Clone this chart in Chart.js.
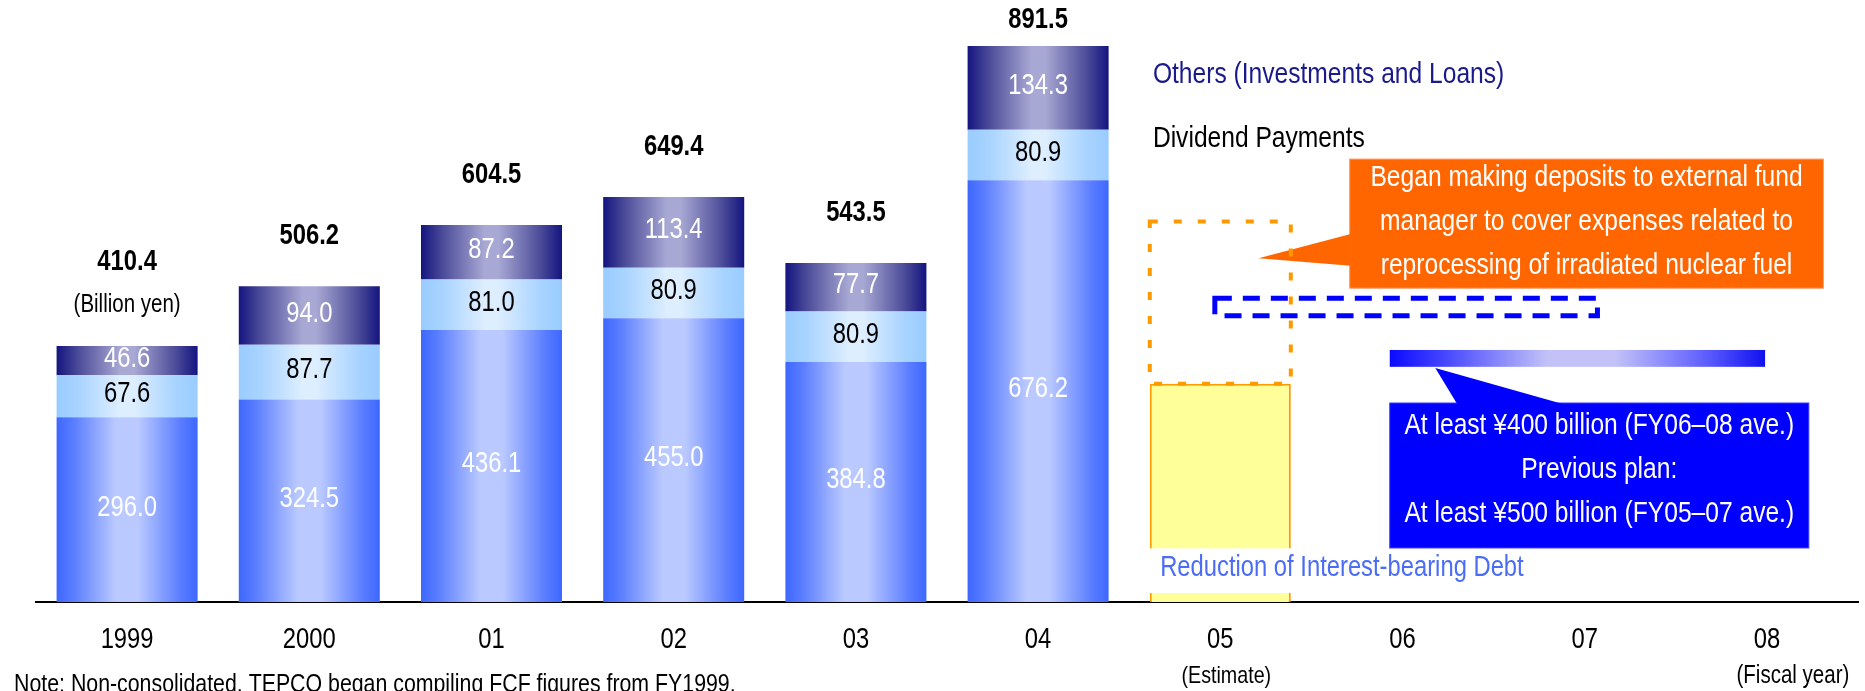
<!DOCTYPE html>
<html>
<head>
<meta charset="utf-8">
<script src="https://cdn.jsdelivr.net/npm/chart.js@4.4.1/dist/chart.umd.min.js"></script>
<style>
    html, body { margin: 0; padding: 0; background: #ffffff; }
    #wrap { width: 1865px; height: 691px; position: relative; }
</style>
</head>
<body>
<div id="wrap"><canvas id="fcfChart"></canvas></div>
<script>
// Fiscal years on the category axis
const years = ['1999', '2000', '01', '02', '03', '04', '05', '06', '07', '08'];

// Use of free cash flow, billion yen (FY1999-FY2004 actual)
const debtReduction = [296.0, 324.5, 436.1, 455.0, 384.8, 676.2, null, null, null, null];
const dividends = [67.6, 87.7, 81.0, 80.9, 80.9, 80.9, null, null, null, null];
const others = [46.6, 94.0, 87.2, 113.4, 77.7, 134.3, null, null, null, null];
const totals = [410.4, 506.2, 604.5, 649.4, 543.5, 891.5];

// FY2005 estimate: debt reduction and the dashed total above it
const estimate = [null, null, null, null, null, null, 350, null, null, null];
const estimateTotal = 610;

// Plan bands (billion yen) and the fiscal-year span they cover (category index)
const newPlanBand = [377, 404];
const newPlanSpan = [6.93, 8.99];
const prevPlanBand = [459, 487];
const prevPlanSpan = [5.97, 8.07];

const FONT = '"Liberation Sans", Arial, sans-serif';
const SQUEEZE = 0.82;   // narrow look of the original typeface
const BAR_PCT = 0.774;

const Charts = (() => {
    let fcfChart = null;

    function halfBar(chart) {
        const xs = chart.scales.x;
        return xs.width / years.length * BAR_PCT / 2;
    }

    // horizontal "cylinder" shading for each bar
    function barGradient(stops) {
        return (context) => {
            const chart = context.chart;
            const xs = chart.scales.x;
            if (!chart.chartArea || !xs || !xs.width || context.type !== 'data') return stops[0][1];
            const cx = xs.getPixelForValue(context.dataIndex);
            const h = halfBar(chart);
            const g = chart.ctx.createLinearGradient(cx - h, 0, cx + h, 0);
            stops.forEach(([o, c]) => g.addColorStop(o, c));
            return g;
        };
    }

    function text(ctx, str, x, y, opts) {
        ctx.save();
        ctx.font = (opts.bold ? 'bold ' : '') + opts.size + 'px ' + FONT;
        ctx.fillStyle = opts.color || '#000';
        ctx.textAlign = opts.align || 'center';
        ctx.textBaseline = opts.baseline || 'middle';
        ctx.translate(x, y);
        ctx.scale(SQUEEZE, 1);
        ctx.fillText(str, 0, 0);
        ctx.restore();
    }

    function dashedRect(ctx, x1, y1, x2, y2, color, width, dash) {
        ctx.save();
        ctx.strokeStyle = color;
        ctx.lineWidth = width;
        ctx.setLineDash(dash);
        ctx.strokeRect(x1, y1, x2 - x1, y2 - y1);
        ctx.restore();
    }

    function callout(ctx, box, tip, base, fill, edge) {
        ctx.save();
        ctx.fillStyle = fill;
        ctx.strokeStyle = edge;
        ctx.lineWidth = 1;
        ctx.fillRect(box.x1, box.y1, box.x2 - box.x1, box.y2 - box.y1);
        ctx.strokeRect(box.x1, box.y1, box.x2 - box.x1, box.y2 - box.y1);
        ctx.beginPath();
        ctx.moveTo(base[0][0], base[0][1]);
        ctx.lineTo(tip[0], tip[1]);
        ctx.lineTo(base[1][0], base[1][1]);
        ctx.closePath();
        ctx.fill();
        ctx.restore();
    }

    const annotate = {
        id: 'annotate',
        afterDatasetsDraw(chart) {
            const { ctx, scales: { x, y } } = chart;
            const px = (i) => x.getPixelForValue(i);
            const py = (v) => y.getPixelForValue(v);
            const hb = halfBar(chart);

            // values inside the stacked segments
            const segColors = ['#ffffff', '#000000', '#ffffff'];
            [0, 1, 2].forEach((d) => {
                chart.getDatasetMeta(d).data.forEach((el, i) => {
                    const v = chart.data.datasets[d].data[i];
                    if (v == null) return;
                    text(ctx, v.toFixed(1), el.x, (el.y + el.base) / 2 - 2, { size: 29, color: segColors[d] });
                });
            });

            // totals above each bar
            totals.forEach((t, i) => {
                const top = py(debtReduction[i] + dividends[i] + others[i]);
                const off = i === 0 ? 84 : (i === 5 ? 26 : 50);
                text(ctx, t.toFixed(1), px(i), top - off, { size: 29, bold: true });
            });
            text(ctx, '(Billion yen)', px(0), py(totals[0]) - 41, { size: 25 });

            // series names
            text(ctx, 'Others (Investments and Loans)', px(5.63), py(845), { size: 30, color: '#1a1a8c', align: 'left' });
            text(ctx, 'Dividend Payments', px(5.63), py(742), { size: 30, color: '#000', align: 'left' });

            // white strip with the debt reduction caption
            ctx.save();
            ctx.fillStyle = '#ffffff';
            ctx.fillRect(px(5.59), py(86), px(7.78) - px(5.59), py(14.4) - py(86));
            ctx.restore();
            text(ctx, 'Reduction of Interest-bearing Debt', px(5.67), py(54.5), { size: 29, color: '#4a6cf7', align: 'left' });

            // previous plan (dashed) and new plan (shaded band)
            dashedRect(ctx, px(prevPlanSpan[0]), py(prevPlanBand[1]), px(prevPlanSpan[1]), py(prevPlanBand[0]), '#0000ff', 5, [17, 11]);

            const gx1 = px(newPlanSpan[0]);
            const gx2 = px(newPlanSpan[1]);
            const g = ctx.createLinearGradient(gx1, 0, gx2, 0);
            g.addColorStop(0, '#0a0aff');
            g.addColorStop(0.15, '#4848ff');
            g.addColorStop(0.42, '#c2c2f8');
            g.addColorStop(0.6, '#c2c2f8');
            g.addColorStop(0.85, '#5a5aff');
            g.addColorStop(1, '#1010f0');
            ctx.save();
            ctx.fillStyle = g;
            ctx.fillRect(gx1, py(newPlanBand[1]), gx2 - gx1, py(newPlanBand[0]) - py(newPlanBand[1]));
            ctx.restore();

            // orange callout
            const ob = { x1: px(6.71), x2: px(9.31), y1: py(710), y2: py(503) };
            callout(ctx, ob, [px(6.21), py(551)], [[ob.x1 + 1, py(590)], [ob.x1 + 1, py(539)]], '#ff6600', '#ff9966');
            const omid = (ob.y1 + ob.y2) / 2 - 1.5;
            const ocx = (ob.x1 + ob.x2) / 2;
            ['Began making deposits to external fund',
             'manager to cover expenses related to',
             'reprocessing of irradiated nuclear fuel'].forEach((s, k) => {
                text(ctx, s, ocx, omid + (k - 1) * 44, { size: 30, color: '#ffffff' });
            });

            // FY05 estimate outline
            dashedRect(ctx, px(6) - hb, py(estimateTotal), px(6) + hb, py(estimate[6]), '#ff9900', 4, [8, 16]);

            // blue callout
            const bb = { x1: px(6.93), x2: px(9.23), y1: py(319), y2: py(86.6) };
            callout(ctx, bb, [px(7.18), py(375)], [[px(7.30), bb.y1 + 1], [px(7.88), bb.y1 + 1]], '#0000ff', '#3a3aff');
            const bmid = (bb.y1 + bb.y2) / 2 - 5.5;
            const bcx = (bb.x1 + bb.x2) / 2;
            ['At least \u00a5400 billion (FY06\u201308 ave.)',
             'Previous plan:',
             'At least \u00a5500 billion (FY05\u201307 ave.)'].forEach((s, k) => {
                text(ctx, s, bcx, bmid + (k - 1) * 44, { size: 30, color: '#ffffff' });
            });

            // category labels from the x scale, plus second lines
            chart.data.labels.forEach((lab, i) => {
                text(ctx, lab, x.getPixelForTick(i), x.top + 38, { size: 29 });
            });
            const ty = x.top + 74;
            text(ctx, '(Estimate)', px(6) + 6, ty, { size: 24 });
            text(ctx, '(Fiscal year)', px(9) + 26, ty, { size: 25 });

            text(ctx, 'Note: Non-consolidated. TEPCO began compiling FCF figures from FY1999.', 14, chart.height + 1,
                { size: 26, align: 'left', baseline: 'alphabetic' });
        }
    };

    function initialize() {
        const ctx = document.getElementById('fcfChart');
        if (!ctx) return;
        if (fcfChart) fcfChart.destroy();

        fcfChart = new Chart(ctx, {
            type: 'bar',
            data: {
                labels: years,
                datasets: [{
                    label: 'Reduction of Interest-bearing Debt',
                    data: debtReduction,
                    backgroundColor: barGradient([[0, '#3d67ff'], [0.12, '#5a7dff'], [0.42, '#bac9ff'], [0.58, '#bac9ff'], [0.88, '#5a7dff'], [1, '#3d67ff']])
                }, {
                    label: 'Dividend Payments',
                    data: dividends,
                    backgroundColor: barGradient([[0, '#99ccff'], [0.15, '#a8d3ff'], [0.45, '#ddeeff'], [0.55, '#ddeeff'], [0.85, '#a8d3ff'], [1, '#99ccff']])
                }, {
                    label: 'Others (Investments and Loans)',
                    data: others,
                    backgroundColor: barGradient([[0, '#141480'], [0.15, '#4a4a98'], [0.45, '#a8a8d4'], [0.55, '#a8a8d4'], [0.85, '#4a4a98'], [1, '#141480']])
                }, {
                    label: 'Estimate',
                    data: estimate,
                    backgroundColor: '#ffff99',
                    borderColor: '#ff9900',
                    borderWidth: { top: 2, left: 2, right: 2, bottom: 0 },
                    borderSkipped: false
                }].map(ds => Object.assign(ds, { barPercentage: BAR_PCT, categoryPercentage: 1.0 }))
            },
            options: {
                responsive: true,
                maintainAspectRatio: false,
                animation: false,
                layout: { padding: { left: 36, right: 7, top: 0, bottom: 0 } },
                plugins: {
                    legend: { display: false },
                    tooltip: { enabled: false }
                },
                scales: {
                    x: {
                        stacked: true,
                        grid: { display: false, drawTicks: false },
                        border: { display: true, color: '#000000', width: 2 },
                        ticks: { display: false },
                        afterFit: (scale) => { scale.height = 89; }
                    },
                    y: {
                        stacked: true,
                        display: false,
                        min: 0,
                        max: 965
                    }
                }
            },
            plugins: [annotate]
        });
    }

    return { initialize };
})();

Charts.initialize();
</script>
</body>
</html>
